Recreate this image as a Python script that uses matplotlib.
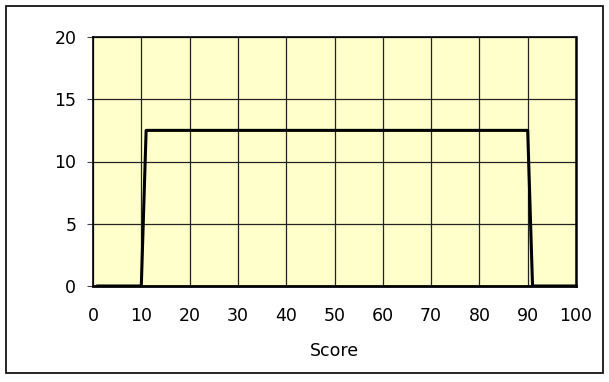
import matplotlib
matplotlib.use("Agg")
import matplotlib.pyplot as plt
from matplotlib.patches import Rectangle

# データ (点数と値)
score = [1, 10, 11, 90, 91, 100]
value = [0, 0, 12.5, 12.5, 0, 0]

x_ticks = [0, 10, 20, 30, 40, 50, 60, 70, 80, 90, 100]
y_ticks = [0, 5, 10, 15, 20]

plt.rcParams["font.family"] = ["DejaVu Sans"]

fig = plt.figure(figsize=(6.09, 3.82), dpi=100)
ax = fig.add_axes([93 / 609, 1 - 286 / 382, (576 - 93) / 609, (286 - 37) / 382])

# 外枠
fig.patches.append(Rectangle((6 / 609, 1 - 373 / 382), 597 / 609, 367 / 382,
                             transform=fig.transFigure, fill=False,
                             edgecolor="black", linewidth=1.2))

ax.set_facecolor("#FFFFCC")
ax.plot(score, value, color="black", linewidth=2.2, zorder=3)

ax.set_xlim(0, 100)
ax.set_ylim(0, 20)
ax.set_xticks(x_ticks)
ax.set_yticks(y_ticks)
ax.grid(True, color="#222222", linewidth=0.9)
ax.set_axisbelow(True)

for side in ["top", "right", "left", "bottom"]:
    ax.spines[side].set_color("black")
    ax.spines[side].set_linewidth(1.2)
ax.spines["bottom"].set_linewidth(2.0)
ax.spines["right"].set_linewidth(1.8)

ax.tick_params(axis="x", length=0, pad=15, labelsize=12.5)
ax.tick_params(axis="y", length=4, pad=8, labelsize=12.5, color="#444444")

ax.set_xlabel("Score", fontsize=12.5, labelpad=12)

fig.savefig("out.png", dpi=100)
